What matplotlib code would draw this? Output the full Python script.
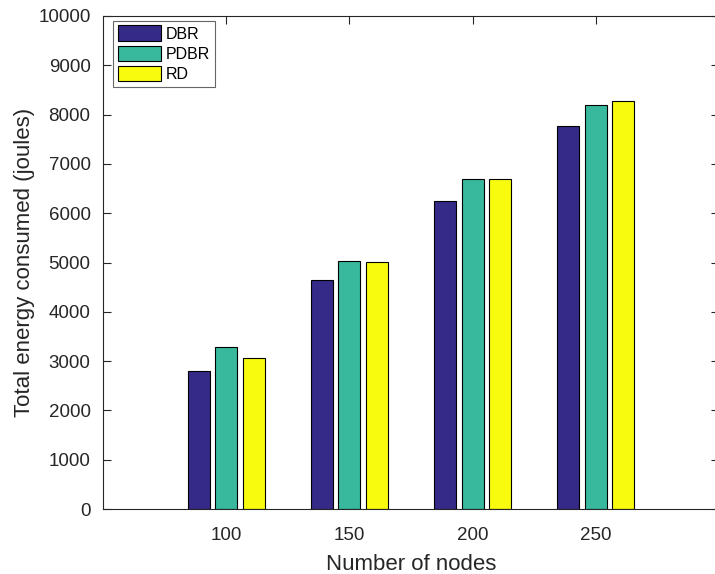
import matplotlib.pyplot as plt
import numpy as np

plt.rcParams['font.family'] = ['Liberation Sans', 'DejaVu Sans']

nodes = [100, 150, 200, 250]
dbr = [2790, 4650, 6240, 7760]
pdbr = [3280, 5040, 6700, 8200]
rd = [3070, 5020, 6700, 8280]

series = [('DBR', dbr, '#352a87'), ('PDBR', pdbr, '#38b99e'), ('RD', rd, '#f9fb0e')]

fig = plt.figure(figsize=(7.15, 5.74), dpi=100)
ax = fig.add_axes([103 / 715, 65 / 574, 616 / 715, 493 / 574])

x = np.array(nodes, dtype=float)
offset = 11.2
width = 9.0
for i, (name, vals, color) in enumerate(series):
    ax.bar(x + (i - 1) * offset, vals, width, color=color, edgecolor='black',
           linewidth=0.8, label=name, zorder=2)

ax.set_xlim(50, 300)
ax.set_ylim(0, 10000)
ax.set_xticks(nodes)
ax.set_yticks(np.arange(0, 10001, 1000))
ax.tick_params(direction='in', length=6, width=0.8, labelsize=13.5, colors='#262626',
               top=True, right=True)
ax.tick_params(axis='x', pad=13)
ax.tick_params(axis='y', pad=9)
for sp in ax.spines.values():
    sp.set_color('#262626')
    sp.set_linewidth(0.8)

ax.set_xlabel('Number of nodes', fontsize=16, color='#262626', labelpad=7)
ax.set_ylabel('Total energy consumed (joules)', fontsize=16, color='#262626', labelpad=2)

leg = ax.legend(loc='upper left', bbox_to_anchor=(0.011, 0.997), fontsize=11.5,
                fancybox=False, edgecolor='#404040', handlelength=2.7, handleheight=1.1,
                borderpad=0.3, labelspacing=0.25, handletextpad=0.3, borderaxespad=0.2)
leg.get_frame().set_linewidth(0.8)

fig.savefig('out.png', dpi=100)
